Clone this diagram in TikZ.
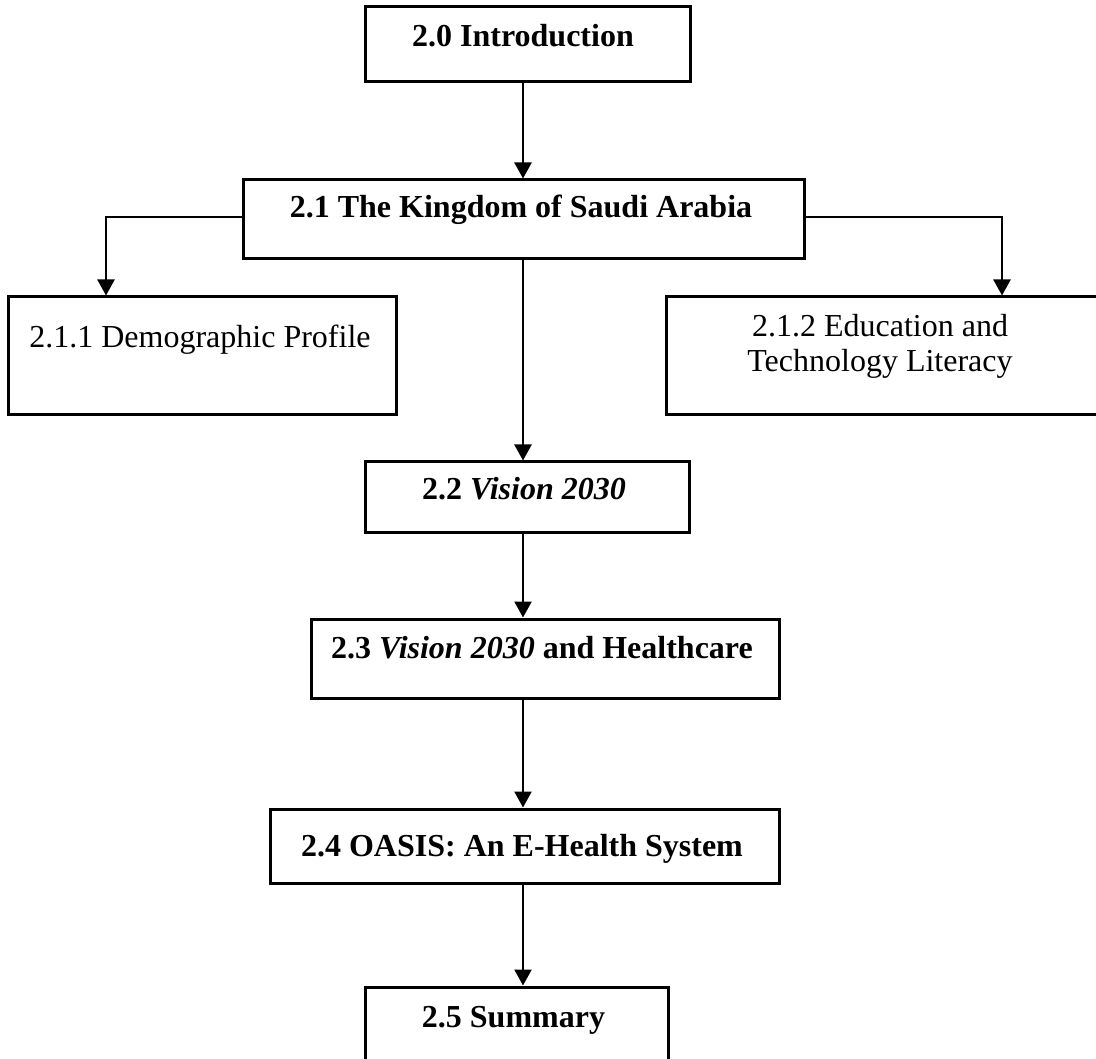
\documentclass[tikz,border=0pt]{standalone}
\usepackage{fontspec}
\setmainfont{Liberation Serif}
\usetikzlibrary{arrows.meta}
\begin{document}
\begin{tikzpicture}[x=1pt,y=-1pt,
  box/.style={draw, line width=3pt, inner sep=0pt, rectangle},
  label/.style={anchor=base, inner sep=0pt, font=\fontsize{32}{35}\selectfont},
  hlabel/.style={label, font=\fontsize{32}{35}\selectfont\bfseries},
  arr/.style={line width=2.4pt, -{Triangle[width=17pt,length=16pt]}}]
\useasboundingbox (0,0) rectangle (1096,1059);

% boxes
\node[box, minimum width=325pt, minimum height=75pt] (intro)  at (527.5,44.5) {};
\node[box, minimum width=561pt, minimum height=79pt] (ksa)    at (523.5,219.5) {};
\node[box, minimum width=388pt, minimum height=118pt] (demo)  at (202.5,356) {};
\node[box, minimum width=434pt, minimum height=118pt] (edu)   at (883,356) {};
\node[box, minimum width=324pt, minimum height=70pt] (vision) at (527,497) {};
\node[box, minimum width=468pt, minimum height=79pt] (health) at (545,658.5) {};
\node[box, minimum width=509pt, minimum height=74pt] (oasis)  at (524.5,846) {};
\node[box, minimum width=303pt, minimum height=90pt] (summ)   at (516.5,1032) {};

% texts
\node[hlabel] at (523,47) {2.0 Introduction};
\node[hlabel] at (521,218) {2.1 The Kingdom of Saudi Arabia};
\node[label] at (200,348) {2.1.1 Demographic Profile};
\node[label] at (880,337) {2.1.2 Education and};
\node[label] at (880,372) {Technology Literacy};
\node[hlabel] at (524,499) {2.2 \textit{Vision 2030}};
\node[hlabel] at (542,658) {2.3 \textit{Vision 2030} and Healthcare};
\node[hlabel] at (522,856) {2.4 OASIS: An E-Health System};
\node[hlabel] at (513.5,1027) {2.5 Summary};

% connectors
\coordinate (spine) at (523,0);
\coordinate (lb) at (106,217);
\coordinate (rb) at (1002,217);
\draw[arr] (intro.south -| spine) -- (ksa.north -| spine);
\draw[arr] (ksa.south -| spine) -- (vision.north -| spine);
\draw[arr] (vision.south -| spine) -- (health.north -| spine);
\draw[arr] (health.south -| spine) -- (oasis.north -| spine);
\draw[arr] (oasis.south -| spine) -- (summ.north -| spine);
\draw[arr] (ksa.west |- lb) -- (lb) -- (lb |- demo.north);
\draw[arr] (ksa.east |- rb) -- (rb) -- (rb |- edu.north);
\end{tikzpicture}
\end{document}
